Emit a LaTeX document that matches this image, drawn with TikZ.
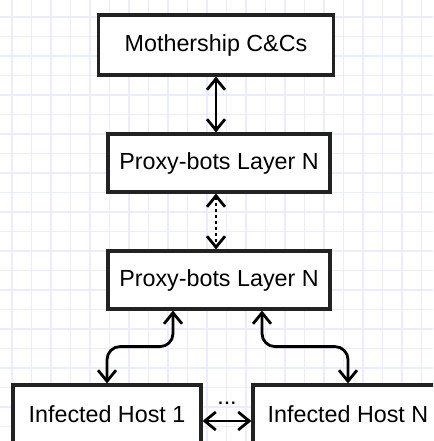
\documentclass[tikz,border=0pt]{standalone}
\usepackage{fontspec}
\setmainfont{Liberation Sans}
\usetikzlibrary{arrows.meta}
\definecolor{gridline}{RGB}{236,236,255}
\definecolor{ink}{RGB}{34,34,34}
\begin{document}
\begin{tikzpicture}
[
    x=1pt, y=-1pt,
    box/.style={draw=ink, fill=white, line width=3.2pt, inner sep=0pt, font=\fontsize{23.3}{28}\selectfont},
    link/.style={draw=black, line width=2.8pt, {Straight Barb[length=11pt, width=18pt]}-{Straight Barb[length=11pt, width=18pt]}}
]
    \useasboundingbox (0, 0) rectangle (433, 441);
    \clip (0, 0) rectangle (433, 441);

    \begin{scope}[gridline, line width=1.5pt]
        \foreach \k in {0,...,21}
        {
            \draw (12 + 19.5*\k, 0) -- (12 + 19.5*\k, 441);
            \draw (0, 17 + 19.5*\k) -- (433, 17 + 19.5*\k);
        }
    \end{scope}

    \node [box, minimum width=235pt, minimum height=60pt] (mother) at (216, 45) {Mothership C\&Cs};
    \node [box, minimum width=222pt, minimum height=58pt] (proxyA) at (219, 163) {Proxy-bots Layer N};
    \node [box, minimum width=222pt, minimum height=58pt] (proxyB) at (219, 280) {Proxy-bots Layer N};
    \node [box, minimum width=188pt, minimum height=58pt] (hostA) at (107, 414) {Infected Host 1};
    \node [box, minimum width=190pt, minimum height=58pt] (hostB) at (348, 414) {Infected Host N};

    \draw [link] (mother.south) -- (mother.south |- proxyA.north);
    \draw [link, dash pattern=on 2.8pt off 3.2pt] (mother.south |- proxyA.south) -- (mother.south |- proxyB.north);

    \begin{scope}[rounded corners=13pt]
        \draw [link] ([xshift=-46pt]proxyB.south) -- ++(0, 36) -| (hostA.north);
        \draw [link] ([xshift=43pt]proxyB.south) -- ++(0, 36) -| (hostB.north);
    \end{scope}

    \draw [link] ([yshift=-7pt]hostA.east) -- ([yshift=-7pt]hostB.west)
        node [midway, above=15pt, inner sep=0pt, font=\fontsize{23.3}{28}\selectfont] (gap) {...};
\end{tikzpicture}
\end{document}
